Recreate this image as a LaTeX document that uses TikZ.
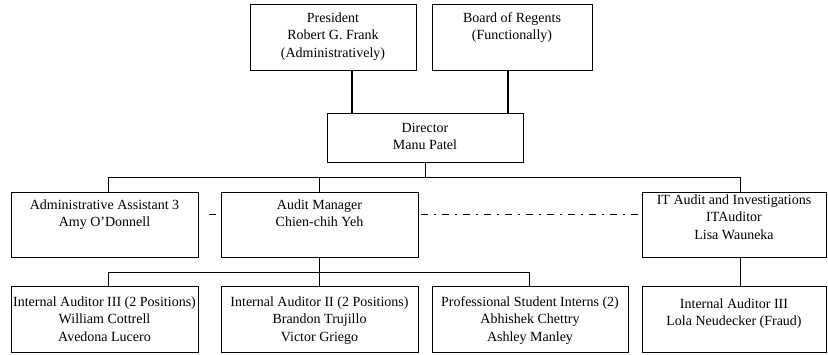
\documentclass[tikz,border=0pt]{standalone}
\usepackage{fontspec}
\setmainfont{Liberation Serif}

\tikzset{
    unit/.style n args={3}{draw, line width=0.8pt, inner xsep=2pt, inner ysep=0pt,
        align=center, anchor=north, font=\fontsize{14}{17.5}\selectfont,
        minimum width=#1, text height=#2, text depth=#3},
    link/.style={line width=0.8pt},
    boldlink/.style={line width=1.6pt},
    dashdot/.style={line width=1.1pt, dash pattern=on 7pt off 6pt on 2pt off 6pt}
}

\begin{document}
\begin{tikzpicture}[x=1pt, y=-1pt]
    \useasboundingbox (0,0) rectangle (828,354);

    % top level
    \node[unit={166pt}{53pt}{13pt}] (pres) at (333,4) {President\\Robert G. Frank\\(Administratively)};
    \node[unit={160pt}{35.5pt}{30.5pt}] (board) at (512,4) {Board of Regents\\(Functionally)};
    \node[unit={196pt}{36.5pt}{12.5pt}] (dir) at (425,113) {Director\\Manu Patel};

    % second level
    \node[unit={187pt}{34.5pt}{30.5pt}] (admin) at (104.5,192) {Administrative Assistant 3\\Amy O'Donnell};
    \node[unit={197pt}{34.5pt}{30.5pt}] (aud) at (319.5,192) {Audit Manager\\Chien-chih Yeh};
    \node[unit={184pt}{47pt}{18pt}] (it) at (734,192) {IT Audit and Investigations\\ITAuditor\\Lisa Wauneka};

    % third level
    \begin{scope}[every node/.append style={font=\fontsize{14}{19.5}\selectfont}]
    \node[unit={187pt}{55pt}{11pt}] (aud3) at (104.5,286) {Internal Auditor III (2 Positions)\\William Cottrell\\Avedona Lucero};
    \node[unit={197pt}{55pt}{11pt}] (aud2) at (319.5,286) {Internal Auditor II (2 Positions)\\Brandon Trujillo\\Victor Griego};
    \node[unit={196pt}{55pt}{11pt}] (interns) at (530,286) {Professional Student Interns (2)\\Abhishek Chettry\\Ashley Manley};
    \node[unit={184pt}{39.5pt}{26.5pt}] (lola) at (734,286) {Internal Auditor III\\Lola Neudecker (Fraud)};
    \end{scope}

    % reporting lines
    \draw[boldlink] ([xshift=19pt]pres.south) -- ([xshift=19pt]pres.south |- dir.north);
    \draw[boldlink] ([xshift=-4pt]board.south) -- ([xshift=-4pt]board.south |- dir.north);
    \draw[link] (dir.south) -- ++(0,15);
    \draw[link] ([xshift=3.5pt]admin.north) -- ++(0,-15) -| ([xshift=6pt]it.north);
    \draw[link] (aud.north) -- ++(0,-15);
    \draw[link] (aud.south) -- (aud2.north);
    \draw[link] ([xshift=3.5pt]aud3.north) -- ++(0,-14) -| ([xshift=-1pt]interns.north);
    \draw[link] ([xshift=6pt]it.south) -- ([xshift=6pt]lola.north);

    % dotted-line relations
    \draw[line width=1.1pt, shorten <=5pt, shorten >=11pt] ([yshift=10.5pt]aud.west) -- ([yshift=10.5pt]admin.east);
    \draw[dashdot, dash phase=18pt] ([yshift=10.5pt]aud.east) -- ([yshift=10.5pt]it.west);
\end{tikzpicture}
\end{document}
